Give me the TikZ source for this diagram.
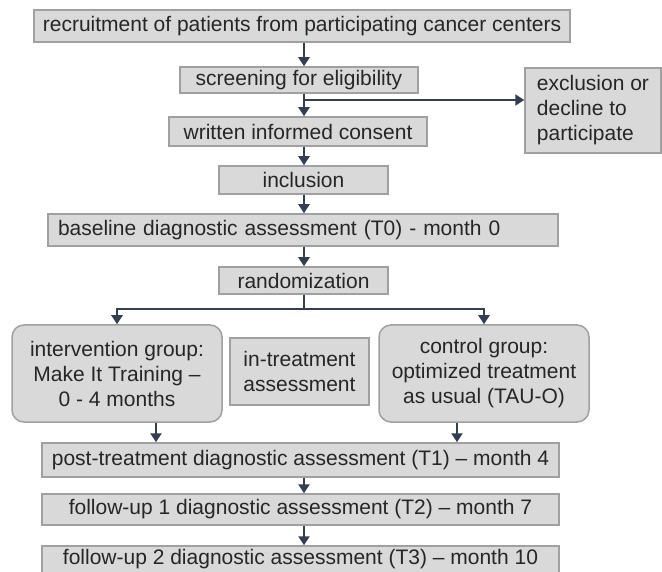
\documentclass[tikz,border=0pt]{standalone}
\usepackage{fontspec}
\setmainfont{Liberation Sans}
\usepackage{tikz}
\usetikzlibrary{arrows.meta}
\definecolor{boxfill}{RGB}{217, 217, 217}
\definecolor{boxline}{RGB}{160, 160, 160}
\definecolor{flow}{RGB}{51, 63, 80}
\definecolor{ink}{RGB}{38, 38, 38}

\begin{document}
\begin{tikzpicture}[x=1pt, y=-1pt,
    box/.style={draw=boxline, fill=boxfill, line width=1.5pt, inner sep=0pt, text=ink, font=\fontsize{21}{25}\selectfont},
    group/.style={box, rounded corners=12pt, align=center},
    flowline/.style={draw=flow, line width=2.5pt},
    arr/.style={flowline, -{Triangle[width=11pt, length=9pt]}}]
  \useasboundingbox (0, 0) rectangle (662, 572);

  \coordinate (spine) at (304, 0);
  \coordinate (split) at (304, 100);
  \coordinate (fork) at (304, 309);
  \coordinate (leftdrop) at (156, 0);
  \coordinate (rightdrop) at (457, 0);

  \node[box, minimum width=536pt, minimum height=32pt] (recruit) at (302, 26) {recruitment of patients from participating cancer centers};
  \node[box, minimum width=238pt, minimum height=26pt] (screen) at (299, 80) {screening for eligibility};
  \node[box, align=left, minimum width=136pt, minimum height=85pt] (exclude) at (593, 110.5) {exclusion or\\decline to\\participate};
  \node[box, minimum width=258pt, minimum height=29pt] (consent) at (298, 131.5) {written informed consent};
  \node[box, minimum width=169pt, minimum height=28pt] (incl) at (303.5, 180) {inclusion};
  \node[box, text width=490pt, align=left, inner xsep=10pt, minimum height=32pt] (baseline) at (303, 230) {baseline diagnostic assessment (T0) - month 0};
  \node[box, minimum width=169pt, minimum height=27pt] (random) at (303.5, 280.5) {randomization};

  \node[group, minimum width=210pt, minimum height=97pt] (interv) at (117, 373.5) {intervention group:\\Make It Training –\\0 - 4 months};
  \node[box, align=center, minimum width=139pt, minimum height=67pt] (intreat) at (299.5, 371.5) {in-treatment\\assessment};
  \node[group, minimum width=210pt, minimum height=97pt] (control) at (484, 373.5) {control group:\\optimized treatment\\as usual (TAU-O)};

  \node[box, minimum width=517pt, minimum height=34pt] (post) at (300.5, 460) {post-treatment diagnostic assessment (T1) – month 4};
  \node[box, minimum width=517pt, minimum height=31pt] (fu1) at (300.5, 509.5) {follow-up 1 diagnostic assessment (T2) – month 7};
  \node[box, minimum width=517pt, minimum height=27pt] (fu2) at (300.5, 559.5) {follow-up 2 diagnostic assessment (T3) – month 10};

  \draw[arr] (spine |- recruit.south) -- (spine |- screen.north);
  \draw[arr] (spine |- screen.south) -- (spine |- consent.north);
  \draw[arr] (split) -- (split -| exclude.west);
  \draw[arr] (spine |- consent.south) -- (spine |- incl.north);
  \draw[arr] (spine |- incl.south) -- (spine |- baseline.north);
  \draw[arr] (spine |- baseline.south) -- (spine |- random.north);
  \draw[flowline] (spine |- random.south) -- (fork);
  \draw[arr] (fork) -| (interv.north);
  \draw[arr] (fork) -| (control.north);
  \draw[arr] (leftdrop |- interv.south) -- (leftdrop |- post.north);
  \draw[arr] (rightdrop |- control.south) -- (rightdrop |- post.north);
  \draw[arr] (spine |- post.south) -- (spine |- fu1.north);
  \draw[arr] (spine |- fu1.south) -- (spine |- fu2.north);

\end{tikzpicture}
\end{document}
